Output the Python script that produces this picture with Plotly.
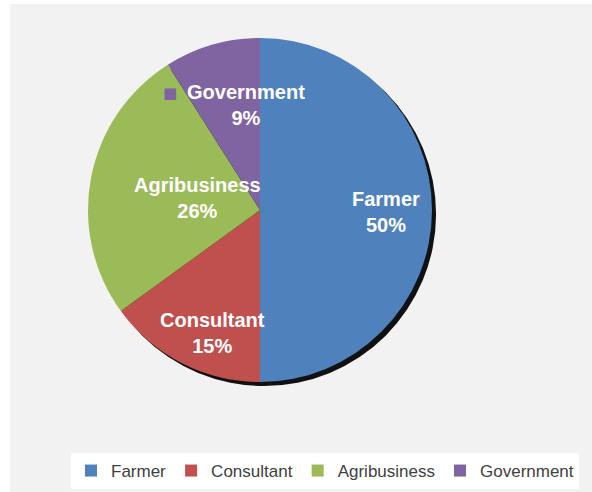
import math
import plotly.graph_objects as go

# ---- data ----
categories = ["Farmer", "Consultant", "Agribusiness", "Government"]
shares = [50, 15, 26, 9]

# ---- style ----
colors = ["#4F81BD", "#C0504D", "#9BBB59", "#8064A2"]
label_radius = [0.72, 0.77, 0.37, 0.64]   # label distance from centre, fraction of radius
label_xshift = [2, 13, 0, 17]             # fine placement tweaks (px)
label_yshift = [-2, -5, 0, -1]
W, H = 592, 492
CX, CY, R = 260, 210, 172                 # pie centre/radius in px
SHADOW_DX, SHADOW_DY = 4, 4
FONT = "Liberation Sans, Arial, sans-serif"

def dom(cx, cy, r):
    return dict(x=[(cx - r) / W, (cx + r) / W], y=[1 - (cy + r) / H, 1 - (cy - r) / H])

fig = go.Figure()
# shadow
fig.add_trace(go.Pie(values=[1], labels=["shadow"], marker=dict(colors=["#111111"]),
                     domain=dom(CX + SHADOW_DX, CY + SHADOW_DY, R), textinfo="none",
                     hoverinfo="skip", showlegend=False, sort=False))
fig.add_trace(go.Pie(labels=categories, values=shares, marker=dict(colors=colors),
                     domain=dom(CX, CY, R), sort=False, direction="clockwise", rotation=0,
                     textinfo="none", hoverinfo="label+percent"))

# data labels, placed along each slice's mid-angle
total = sum(shares)
cum = 0
annotations = []
for cat, v, f, xs, ys in zip(categories, shares, label_radius, label_xshift, label_yshift):
    mid = (cum + v / 2) / total * 2 * math.pi
    cum += v
    px = CX + f * R * math.sin(mid)
    py = CY - f * R * math.cos(mid)
    annotations.append(dict(x=px / W, y=1 - py / H, xref="paper", yref="paper",
                            xshift=xs, yshift=ys,
                            text=f"<b>{cat}</b><br><b>{v}%</b>", showarrow=False,
                            font=dict(family=FONT, size=20, color="white"),
                            xanchor="center", yanchor="middle", align="center"))
    if cat == "Government":
        annotations.append(dict(x=px / W, y=1 - py / H, xref="paper", yref="paper",
                                text="■", showarrow=False, xshift=xs - 76, yshift=ys + 12,
                                font=dict(family="DejaVu Sans", size=15, color=colors[3]),
                                xanchor="center", yanchor="middle"))

fig.update_layout(
    width=W, height=H,
    margin=dict(l=0, r=0, t=0, b=0),
    paper_bgcolor="#f2f2f2",
    annotations=annotations,
    shapes=[
        dict(type="rect", xref="paper", yref="paper", x0=0, x1=10 / W, y0=0, y1=1,
             fillcolor="white", line=dict(width=0), layer="above"),
        dict(type="rect", xref="paper", yref="paper", x0=0, x1=1, y0=1 - 4 / H, y1=1,
             fillcolor="white", line=dict(width=0), layer="above"),
    ],
    legend=dict(orientation="h", x=325 / W, xanchor="center", y=1 - 453 / H, yanchor="top",
                bgcolor="white", font=dict(family=FONT, size=17, color="#404040"),
                itemwidth=30, traceorder="normal"),
)

fig.write_html("out.html")
